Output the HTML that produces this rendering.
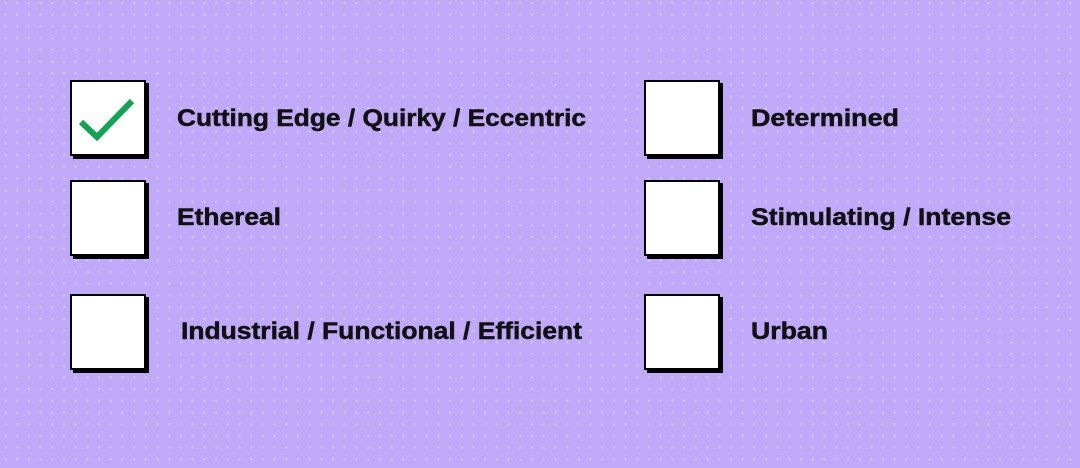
<!DOCTYPE html>
<html><head><style>
html,body{margin:0;padding:0;}
body{width:1080px;height:463px;overflow:hidden;background:#c0a9f9;}
</style></head><body>
<svg width="1080" height="463" xmlns="http://www.w3.org/2000/svg">
<defs>
<pattern id="d" x="0" y="0" width="11.7" height="11.7" patternUnits="userSpaceOnUse">
<circle cx="5.5" cy="3" r="1.2" fill="#d6c9fc"/>
</pattern>
</defs>
<rect width="1080" height="463" fill="#c0a9f9"/>
<rect width="1080" height="463" fill="url(#d)"/>
<g stroke="#000" stroke-width="2">
<rect x="74" y="84" width="74" height="74" fill="#000"/>
<rect x="71" y="81" width="74" height="74" fill="#fff"/>
<rect x="74" y="184" width="74" height="74" fill="#000"/>
<rect x="71" y="181" width="74" height="74" fill="#fff"/>
<rect x="74" y="298" width="74" height="74" fill="#000"/>
<rect x="71" y="295" width="74" height="74" fill="#fff"/>
<rect x="648" y="84" width="74" height="74" fill="#000"/>
<rect x="645" y="81" width="74" height="74" fill="#fff"/>
<rect x="648" y="184" width="74" height="74" fill="#000"/>
<rect x="645" y="181" width="74" height="74" fill="#fff"/>
<rect x="648" y="298" width="74" height="74" fill="#000"/>
<rect x="645" y="295" width="74" height="74" fill="#fff"/>
</g>
<polyline points="81,122 97,137 132,101" fill="none" stroke="#0fa554" stroke-width="6"/>
<g font-family="Liberation Sans, sans-serif" font-weight="bold" font-size="24" fill="#111" stroke="#111" stroke-width="0.5">
<text x="177" y="126" textLength="409" lengthAdjust="spacingAndGlyphs">Cutting Edge / Quirky / Eccentric</text>
<text x="177" y="225" textLength="104" lengthAdjust="spacingAndGlyphs">Ethereal</text>
<text x="181" y="339" textLength="401" lengthAdjust="spacingAndGlyphs">Industrial / Functional / Efficient</text>
<text x="751" y="126" textLength="148" lengthAdjust="spacingAndGlyphs">Determined</text>
<text x="751" y="225" textLength="260" lengthAdjust="spacingAndGlyphs">Stimulating / Intense</text>
<text x="751" y="339" textLength="77" lengthAdjust="spacingAndGlyphs">Urban</text>
</g>
</svg>
</body></html>
